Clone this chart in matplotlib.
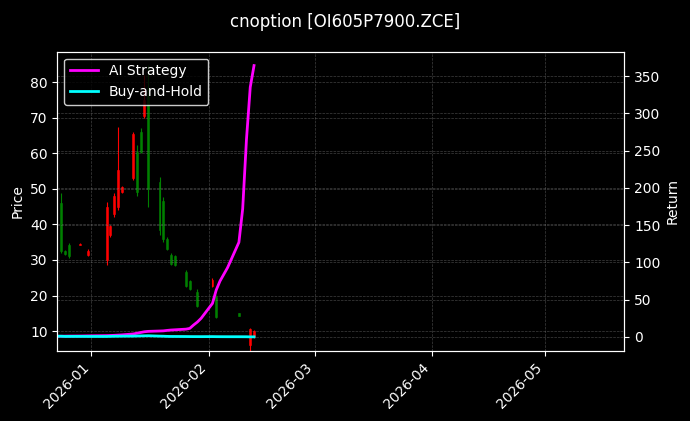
import numpy as np
import pandas as pd
import matplotlib
matplotlib.use('Agg')
import matplotlib.pyplot as plt
import matplotlib.dates as mdates

plt.style.use('dark_background')

# trading days
dates = pd.to_datetime([
    '2025-12-23', '2025-12-24', '2025-12-25', '2025-12-26', '2025-12-29', '2025-12-30', '2025-12-31',
    '2026-01-05', '2026-01-06', '2026-01-07', '2026-01-08', '2026-01-09',
    '2026-01-12', '2026-01-13', '2026-01-14', '2026-01-15', '2026-01-16',
    '2026-01-19', '2026-01-20', '2026-01-21', '2026-01-22', '2026-01-23',
    '2026-01-26', '2026-01-27', '2026-01-28', '2026-01-29', '2026-01-30',
    '2026-02-02', '2026-02-03', '2026-02-04', '2026-02-05', '2026-02-06',
    '2026-02-09', '2026-02-10', '2026-02-11', '2026-02-12', '2026-02-13',
])

nan = np.nan
# OHLC (nan = no visible candle)
opens = [nan, 32.5, 31.6, 31.0, 34.6, nan, 32.6,
         45.0, 39.5, 48.0, 55.3, 50.5,
         65.5, 49.0, 60.5, 75.0, 50.0,
         38.5, 36.0, 33.0, 28.8, 28.5,
         22.8, 21.7, nan, 17.0, nan,
         24.5, 13.9, nan, nan, nan,
         14.3, nan, nan, 10.5, 10.0]
highs = [nan, 48.9, 32.8, 34.8, 34.7, nan, 33.1,
         46.4, 39.8, 48.8, 67.5, 50.8,
         66.1, 62.4, 67.1, 82.0, 84.8,
         53.3, 47.8, 36.5, 32.0, 31.4,
         27.2, 24.4, nan, 21.8, nan,
         24.9, 20.1, nan, nan, nan,
         15.1, nan, nan, 10.8, 10.3]
lows = [nan, 31.9, 31.4, 30.5, 34.2, nan, 31.1,
        28.6, 36.5, 42.2, 44.1, 48.8,
        52.5, 48.0, 60.1, 69.9, 45.0,
        37.0, 35.1, 32.8, 28.6, 28.3,
        22.5, 21.5, nan, 16.8, nan,
        22.5, 13.6, nan, nan, nan,
        14.2, nan, nan, 4.0, 8.0]
closes = [nan, 46.0, 32.6, 34.2, 34.3, nan, 31.3,
          30.0, 37.0, 43.0, 45.0, 49.0,
          53.0, 60.5, 66.0, 70.5, 76.0,
          52.0, 46.5, 36.0, 31.5, 31.0,
          26.5, 24.0, nan, 21.0, nan,
          22.8, 19.5, nan, nan, nan,
          15.0, nan, nan, 6.0, 8.3]

ai_strategy = [1.0, 1.0, 1.1, 1.2, 1.3, 1.4, 1.5,
               1.8, 2.0, 2.2, 2.5, 2.8,
               4.0, 5.0, 6.0, 7.0, 7.5,
               8.0, 8.2, 8.8, 9.3, 9.6,
               10.5, 11.5, 16.0, 20.0, 25.0,
               45.0, 63.0, 75.0, 84.0, 93.0,
               127.0, 172.0, 265.0, 335.0, 364.0]
buy_hold = [1.0, 1.0, 0.7, 0.74, 0.75, 0.72, 0.68,
            0.65, 0.8, 0.93, 0.98, 1.06,
            1.15, 1.3, 1.43, 1.53, 1.65,
            1.13, 1.01, 0.78, 0.68, 0.67,
            0.58, 0.52, 0.48, 0.46, 0.44,
            0.5, 0.42, 0.38, 0.36, 0.34,
            0.33, 0.3, 0.28, 0.13, 0.18]

fig = plt.figure(figsize=(6.9, 4.21), dpi=100)
fig.patch.set_facecolor('black')
ax = fig.add_axes([0.0833, 0.1663, 0.8217, 0.7109])
ax.set_facecolor('black')

o = np.array(opens)
h = np.array(highs)
l = np.array(lows)
c = np.array(closes)
ok = ~np.isnan(o)
up = ok & (c >= o)
dn = ok & (c < o)

for mask, col in [(up, 'green'), (dn, 'red')]:
    ax.vlines(dates[mask], l[mask], h[mask], color=col, linewidth=0.8)
    ax.bar(dates[mask], np.abs(c[mask] - o[mask]), bottom=np.minimum(o[mask], c[mask]),
           width=0.5, color=col, edgecolor=col, linewidth=0.4)

ax.set_ylim(4.4, 88.6)
ax.set_ylabel('Price')
ax.grid(True, linestyle='--', linewidth=0.5, color='gray', alpha=0.5)

ax2 = ax.twinx()
ax2.plot(dates, ai_strategy, color='magenta', linewidth=2, label='AI Strategy')
ax2.plot(dates, buy_hold, color='cyan', linewidth=2, label='Buy-and-Hold')
ax2.set_ylim(-18.8, 382.6)
ax2.set_ylabel('Return')
ax2.grid(True, linestyle='--', linewidth=0.5, color='gray', alpha=0.5)
ax2.legend(loc='upper left', edgecolor='white')

ax.set_xlim(pd.Timestamp('2025-12-23'), pd.Timestamp('2026-05-22'))
ax.xaxis.set_major_locator(mdates.MonthLocator())
ax.xaxis.set_major_formatter(mdates.DateFormatter('%Y-%m'))
plt.setp(ax.get_xticklabels(), rotation=45, ha='right')

fig.suptitle('cnoption [OI605P7900.ZCE]', fontsize=12, y=0.97)

plt.savefig('out.png', dpi=100, facecolor='black')
